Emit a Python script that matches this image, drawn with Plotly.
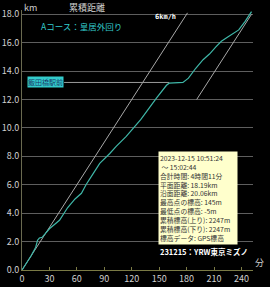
import plotly.graph_objects as go

# ---- data ----
minutes = [0, 5, 10, 15, 17, 19, 22, 30, 41, 50, 58, 65, 70, 78, 85, 96, 103, 114, 122, 130,
           147, 158, 161, 176, 182, 190, 198, 205, 212, 218, 225, 233, 237, 244, 251]
km = [0, 0.5, 1.0, 1.6, 2.1, 2.25, 2.3, 2.9, 3.5, 4.4, 5.0, 5.4, 6.0, 6.8, 7.5, 8.2, 8.7, 9.4, 10.0, 10.6,
      12.1, 13.0, 13.15, 13.2, 13.5, 14.2, 14.8, 15.2, 15.7, 16.1, 16.4, 16.7, 16.9, 17.5, 18.19]

pace1_t = [0, 181]
pace1_km = [0, 18.1]
pace2_t = [191, 251]
pace2_km = [12.0, 18.0]
pace_label = "6km/h"

landmark_name = "飯田橋駅前"
landmark_t = 161
landmark_km = 13.2
landmark_label_t = 6

x_ticks = [0, 30, 60, 90, 120, 150, 180, 210, 240]
y_ticks = [0, 2, 4, 6, 8, 10, 12, 14, 16, 18]

title_text = "累積距離"
course_text = "Aコース：皇居外回り"
footer_text = "231215：YRW東京ミズノ"
info_lines = [
    "2023-12-15 10:51:24",
    " ～ 15:02:44",
    "合計時間: 4時間11分",
    "平面距離: 18.19km",
    "沿面距離: 20.06km",
    "最高点の標高: 145m",
    "最低点の標高: -5m",
    "累積標高(上り): 2247m",
    "累積標高(下り): 2247m",
    "標高データ: GPS標高",
]

FONT = "Noto Sans CJK JP"
GRID = "#5e5e5e"
OLIVE = "#7a7a45"
TEAL = "#3fb7a8"
CYAN = "#33cccc"

fig = go.Figure()

fig.add_trace(go.Scatter(x=pace1_t, y=pace1_km, mode="lines",
                         line=dict(color="#a8a8a8", width=1), hoverinfo="skip"))
fig.add_trace(go.Scatter(x=pace2_t, y=pace2_km, mode="lines",
                         line=dict(color="#a8a8a8", width=1), hoverinfo="skip"))
# landmark leader line
fig.add_trace(go.Scatter(x=[landmark_label_t + 40, landmark_t], y=[landmark_km, landmark_km],
                         mode="lines", line=dict(color="#9a9a9a", width=1), hoverinfo="skip"))
fig.add_trace(go.Scatter(x=minutes, y=km, mode="lines",
                         line=dict(color=TEAL, width=1.2)))

annotations = [
    dict(text=title_text, xref="paper", yref="paper", x=0.28, y=1.0, xanchor="center",
         yanchor="middle", yshift=3, showarrow=False, font=dict(family=FONT, size=9, color="#d0d0d0")),
    dict(text="km", xref="paper", yref="paper", x=0.0, y=1.0, xanchor="left",
         yanchor="middle", yshift=3, showarrow=False, font=dict(family=FONT, size=9, color="#d0d0d0")),
    dict(text=course_text, xref="paper", yref="paper", x=0.075, y=0.94, xanchor="left",
         yanchor="middle", showarrow=False, font=dict(family=FONT, size=8.5, color=CYAN)),
    dict(text="<b>" + pace_label + "</b>", xref="paper", yref="paper", x=0.565, y=0.973,
         xanchor="left", yanchor="middle", showarrow=False,
         font=dict(family="DejaVu Sans Mono", size=7, color="#ffffff")),
    dict(text=landmark_name, x=landmark_label_t, y=landmark_km, xanchor="left", yanchor="middle",
         showarrow=False, bgcolor=CYAN, borderpad=0,
         font=dict(family=FONT, size=7, color="#1a3a6a")),
    dict(text="<br>".join(info_lines), xref="paper", yref="paper", x=0.587, y=0.458,
         xanchor="left", yanchor="top", showarrow=False, align="left", bgcolor="#ffffcc",
         width=76, borderpad=1,
         font=dict(family=FONT, size=6.8, color="#333333")),
    dict(text="<b>" + footer_text + "</b>", xref="paper", yref="paper", x=0.59, y=0.072,
         xanchor="left", yanchor="middle", showarrow=False,
         font=dict(family=FONT, size=7.5, color="#ffffff")),
    dict(text="分", xref="paper", yref="paper", x=1.0, y=0.0, xanchor="left", yanchor="bottom",
         yshift=-1, showarrow=False, font=dict(family=FONT, size=9, color="#d0d0d0")),
]

fig.update_layout(
    width=270, height=287,
    margin=dict(l=22, r=17, t=10, b=17, autoexpand=False),
    paper_bgcolor="#000000", plot_bgcolor="#000000",
    showlegend=False,
    annotations=annotations,
    font=dict(family=FONT, size=9, color="#d0d0d0"),
)
fig.update_xaxes(range=[0, 252.6], tickvals=x_ticks, ticks="inside", ticklen=3, tickcolor=OLIVE,
                 showline=True, linecolor=OLIVE, linewidth=1, showgrid=False, zeroline=False,
                 automargin=False,
                 tickfont=dict(family=FONT, size=9, color="#d0d0d0"))
fig.update_yaxes(range=[0, 18.3], tickvals=y_ticks, tickformat=".1f", showgrid=True, gridcolor=GRID,
                 gridwidth=1, showline=True, linecolor="#6a6a50", zeroline=False, ticks="",
                 automargin=False,
                 tickfont=dict(family=FONT, size=9, color="#d0d0d0"))

fig.write_html("out.html")
